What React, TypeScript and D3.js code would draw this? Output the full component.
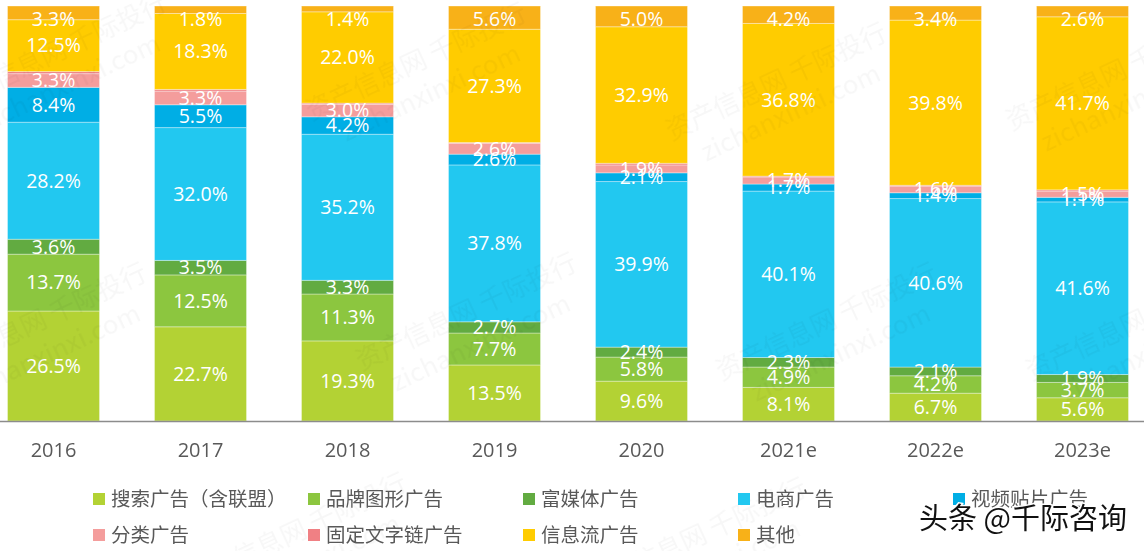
import React from "react";
import * as d3 from "d3";

const categories = ["2016", "2017", "2018", "2019", "2020", "2021e", "2022e", "2023e"];
const seriesNames = [
  "搜索广告（含联盟）",
  "品牌图形广告",
  "富媒体广告",
  "电商广告",
  "视频贴片广告",
  "分类广告",
  "固定文字链广告",
  "信息流广告",
  "其他",
];
const search = [26.5, 22.7, 19.3, 13.5, 9.6, 8.1, 6.7, 5.6];
const brand = [13.7, 12.5, 11.3, 7.7, 5.8, 4.9, 4.2, 3.7];
const richMedia = [3.6, 3.5, 3.3, 2.7, 2.4, 2.3, 2.1, 1.9];
const ecommerce = [28.2, 32.0, 35.2, 37.8, 39.9, 40.1, 40.6, 41.6];
const video = [8.4, 5.5, 4.2, 2.6, 2.1, 1.7, 1.4, 1.1];
const classified = [3.3, 3.3, 3.0, 2.6, 1.9, 1.7, 1.6, 1.5];
const textLink = [0.5, 0.4, 0.3, 0.2, 0.4, 0.2, 0.2, 0.3];
const feed = [12.5, 18.3, 22.0, 27.3, 32.9, 36.8, 39.8, 41.7];
const other = [3.3, 1.8, 1.4, 5.6, 5.0, 4.2, 3.4, 2.6];
const seriesValues = [search, brand, richMedia, ecommerce, video, classified, textLink, feed, other];
const showLabel = [true, true, true, true, true, true, false, true, true];
const colors = ["#B3D234", "#8CC63F", "#62AB41", "#22C8F0", "#00AEE5", "#F49D9C", "#F08084", "#FFCC00", "#F8B118"];

const W = 1144;
const H = 551;
const top = 6;
const bottom = 421;

const watermarkSpots = [
  [60, 60], [420, 70], [780, 90], [1120, 80],
  [40, 330], [470, 320], [830, 330], [1140, 330],
  [300, 540], [700, 545],
];

export default function App() {
  const keys = seriesNames.map((_, i) => String(i));
  const table = categories.map((c, ci) => {
    const row: any = { cat: c };
    keys.forEach((k, si) => (row[k] = seriesValues[si][ci]));
    return row;
  });
  const stacked = d3.stack<any>().keys(keys).offset(d3.stackOffsetExpand)(table);

  const x = d3
    .scaleBand<string>()
    .domain(categories)
    .range([7.5, 1128.5])
    .paddingInner(0.374)
    .paddingOuter(0);
  const y = d3.scaleLinear().domain([0, 1]).range([bottom, top]);

  const font = "'Open Sans', 'Noto Sans CJK SC', sans-serif";
  const cjkFont = "'Noto Sans CJK SC', 'Open Sans', sans-serif";

  return (
    <svg width={W} height={H} style={{ position: "absolute", left: 0, top: 0 }}>
      <rect x={0} y={0} width={W} height={H} fill="#fff" />
      {stacked.map((layer, si) => (
        <g key={si}>
          {layer.map((d, ci) => (
            <rect
              key={ci}
              x={x(categories[ci])}
              y={y(d[1])}
              width={x.bandwidth()}
              height={Math.max(0, y(d[0]) - y(d[1]))}
              fill={colors[si]}
              stroke="rgba(255,255,255,0.35)"
              strokeWidth={1}
            />
          ))}
        </g>
      ))}
      {stacked.map((layer, si) =>
        showLabel[si]
          ? layer.map((d, ci) => {
              const cy = Math.max(19.5, (y(d[0]) + y(d[1])) / 2);
              return (
                <text
                  key={`${si}-${ci}`}
                  x={(x(categories[ci]) as number) + x.bandwidth() / 2}
                  y={cy}
                  dy="0.35em"
                  textAnchor="middle"
                  fill="#fff"
                  fontFamily={font}
                  fontSize={19.5}
                >
                  {seriesValues[si][ci].toFixed(1)}%
                </text>
              );
            })
          : null
      )}
      <g opacity={0.035} fill="#000" fontFamily={cjkFont}>
        {watermarkSpots.map(([wx, wy], i) => (
          <g key={i} transform={`translate(${wx},${wy}) rotate(-25)`}>
            <text x={0} y={0} textAnchor="middle" fontSize={26}>资产信息网 千际投行</text>
            <text x={0} y={34} textAnchor="middle" fontSize={26}>zichanxinxi.com</text>
          </g>
        ))}
      </g>
      <line x1={0} x2={W} y1={bottom + 0.5} y2={bottom + 0.5} stroke="#8c8c8c" strokeWidth={1.5} />
      {categories.map((c) => (
        <text
          key={c}
          x={(x(c) as number) + x.bandwidth() / 2}
          y={450}
          dy="0.35em"
          textAnchor="middle"
          fill="#595959"
          fontFamily={font}
          fontSize={20}
        >
          {c}
        </text>
      ))}
      {seriesNames.map((name, i) => {
        const row = i < 5 ? 0 : 1;
        const col = i < 5 ? i : i - 5;
        const lx = 93 + col * 215;
        const ly = row === 0 ? 499 : 535;
        return (
          <g key={name}>
            <rect x={lx} y={ly - 6} width={12} height={12} fill={colors[i]} />
            <text
              x={lx + 18}
              y={ly}
              dy="0.35em"
              fill="#595959"
              fontFamily={cjkFont}
              fontSize={19.5}
            >
              {name}
            </text>
          </g>
        );
      })}
      <text
        x={919}
        y={519}
        dy="0.35em"
        fontFamily="'Noto Sans CJK SC', sans-serif"
        fontSize={29}
        fill="#111"
        stroke="#fff"
        strokeWidth={3}
        paintOrder="stroke"
      >
        头条 @千际咨询
      </text>
    </svg>
  );
}
